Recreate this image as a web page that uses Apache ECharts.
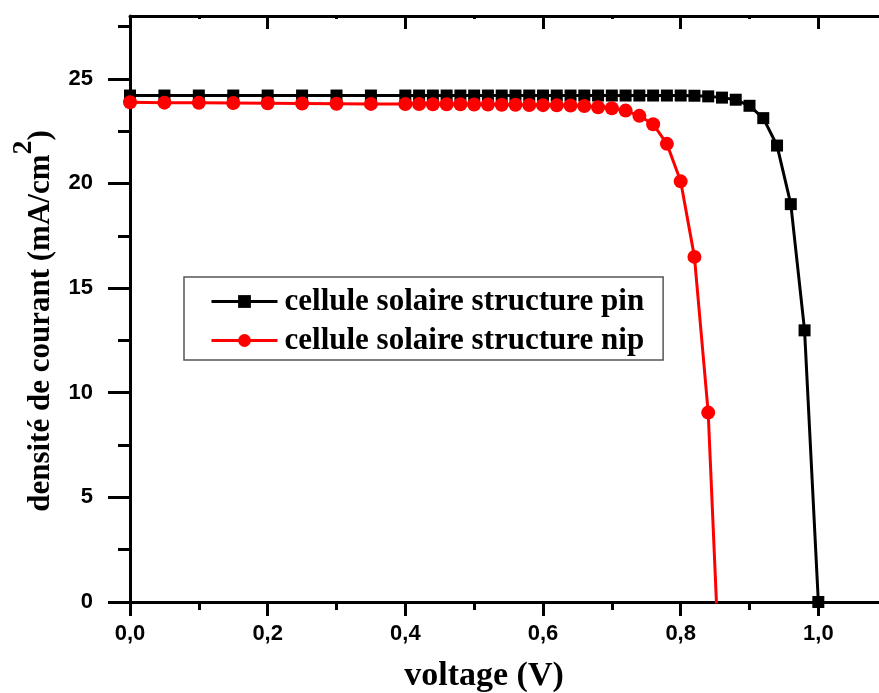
<!DOCTYPE html>
<html>
<head>
<meta charset="utf-8">
<script src="https://cdn.jsdelivr.net/npm/echarts@6/dist/echarts.min.js"></script>
<style>
  html, body { margin: 0; padding: 0; background: #fff; }
  #chart { width: 879px; height: 693px; }
</style>
</head>
<body>
<div id="chart"></div>
<script>
// Voltage (V) and current density (mA/cm2)
const voltagePin = [0, 0.05, 0.1, 0.15, 0.2, 0.25, 0.3, 0.35, 0.4,
    0.42, 0.44, 0.46, 0.48, 0.5, 0.52, 0.54, 0.56, 0.58, 0.6,
    0.62, 0.64, 0.66, 0.68, 0.7, 0.72, 0.74, 0.76, 0.78, 0.8,
    0.82, 0.84, 0.86, 0.88, 0.9, 0.92, 0.94, 0.96, 0.98, 1.0];
const currentPin = [24.2, 24.2, 24.2, 24.2, 24.2, 24.2, 24.2, 24.2, 24.2,
    24.2, 24.2, 24.2, 24.2, 24.2, 24.2, 24.2, 24.2, 24.2, 24.2,
    24.2, 24.2, 24.2, 24.2, 24.2, 24.2, 24.2, 24.2, 24.2, 24.2,
    24.19, 24.16, 24.1, 24.0, 23.71, 23.12, 21.81, 19.01, 12.98, 0];

const voltageNip = [0, 0.05, 0.1, 0.15, 0.2, 0.25, 0.3, 0.35, 0.4,
    0.42, 0.44, 0.46, 0.48, 0.5, 0.52, 0.54, 0.56, 0.58, 0.6,
    0.62, 0.64, 0.66, 0.68, 0.7, 0.72, 0.74, 0.76, 0.78, 0.8,
    0.82, 0.84, 0.86];
const currentNip = [23.88, 23.86, 23.85, 23.84, 23.83, 23.82, 23.81, 23.8, 23.79,
    23.79, 23.78, 23.78, 23.78, 23.77, 23.77, 23.76, 23.76, 23.75, 23.74,
    23.73, 23.72, 23.7, 23.64, 23.59, 23.48, 23.23, 22.83, 21.89, 20.1,
    16.49, 9.05, -6.1];

const yMajorTicks = [0, 5, 10, 15, 20, 25];
const yMinorTicks = [2.5, 7.5, 12.5, 17.5, 22.5, 27.5];

const seriesNames = ['cellule solaire structure pin', 'cellule solaire structure nip'];

const serif = '"Liberation Serif", "Times New Roman", serif';
const sans = '"Liberation Sans", Arial, sans-serif';

const chart = echarts.init(document.getElementById('chart'), null, { renderer: 'canvas' });

const axisLine = { show: true, onZero: false, lineStyle: { color: '#000', width: 3 } };

chart.setOption({
    animation: false,
    backgroundColor: '#fff',
    grid: { left: 130, top: 16, width: 826, height: 586, containLabel: false, outerBoundsMode: 'none' },
    legend: {
        orient: 'vertical',
        left: 184,
        top: 277,
        data: seriesNames.map(n => ({ name: n, lineStyle: { width: 3 } })),
        itemWidth: 66,
        itemHeight: 16,
        itemGap: 8,
        padding: [9, 19, 4, 26],
        borderColor: '#555',
        borderWidth: 1.5,
        lineStyle: { width: 3 },
        textStyle: {
            fontFamily: serif,
            fontWeight: 'bold',
            fontSize: 31,
            lineHeight: 30,
            color: '#000',
            padding: [0, 0, 0, 2]
        }
    },
    xAxis: [
        {
            type: 'value',
            position: 'bottom',
            min: 0,
            max: 1.2,
            interval: 0.2,
            axisLine: axisLine,
            axisTick: { show: true, inside: false, length: 14, lineStyle: { color: '#000', width: 3 } },
            minorTick: { show: true, splitNumber: 2, length: 8, lineStyle: { color: '#000', width: 3 } },
            splitLine: { show: false },
            axisLabel: {
                margin: 21,
                color: '#000',
                fontFamily: sans,
                fontWeight: 'bold',
                fontSize: 22,
                showMaxLabel: false,
                formatter: v => v.toFixed(1).replace('.', ',')
            },
            name: 'voltage (V)',
            nameLocation: 'middle',
            nameGap: 57,
            nameTextStyle: {
                fontFamily: serif,
                fontWeight: 'bold',
                fontSize: 34,
                color: '#000',
                padding: [0, 118, 0, 0]
            }
        },
        {
            type: 'value',
            position: 'top',
            min: 0,
            max: 1.2,
            interval: 0.2,
            axisLine: axisLine,
            axisTick: { show: true, inside: true, length: 13, lineStyle: { color: '#000', width: 3 } },
            minorTick: { show: true, splitNumber: 2, length: 3, lineStyle: { color: '#000', width: 3 } },
            splitLine: { show: false },
            axisLabel: { show: false }
        }
    ],
    yAxis: [
        {
            type: 'value',
            position: 'left',
            min: 0,
            max: 28,
            interval: 5,
            axisLine: axisLine,
            axisTick: { show: true, inside: false, length: 22, customValues: yMajorTicks, lineStyle: { color: '#000', width: 3 } },
            splitLine: { show: false },
            axisLabel: {
                margin: 37,
                customValues: yMajorTicks,
                color: '#000',
                fontFamily: sans,
                fontWeight: 'bold',
                fontSize: 22
            },
            name: '{a|densité de courant (mA/cm}{s|2}{a|)}',
            nameLocation: 'middle',
            nameRotate: 90,
            nameGap: 58,
            nameTextStyle: {
                padding: [0, 24, 0, 0],
                rich: {
                    a: { fontFamily: serif, fontWeight: 'bold', fontSize: 31, color: '#000' },
                    s: { fontFamily: serif, fontWeight: 'bold', fontSize: 28, color: '#000', padding: [0, 0, 34, 0] }
                }
            }
        },
        {
            type: 'value',
            position: 'left',
            min: 0,
            max: 28,
            axisLine: { show: false },
            axisTick: { show: true, inside: false, length: 12, customValues: yMinorTicks, lineStyle: { color: '#000', width: 3 } },
            axisLabel: { show: false },
            splitLine: { show: false }
        }
    ],
    series: [
        {
            name: seriesNames[0],
            type: 'line',
            xAxisIndex: 0,
            yAxisIndex: 0,
            data: voltagePin.map((v, i) => [v, currentPin[i]]),
            symbol: 'rect',
            symbolSize: 12,
            showAllSymbol: true,
            clip: true,
            lineStyle: { color: '#000', width: 3 },
            itemStyle: { color: '#000' }
        },
        {
            name: seriesNames[1],
            type: 'line',
            xAxisIndex: 0,
            yAxisIndex: 0,
            data: voltageNip.map((v, i) => [v, currentNip[i]]),
            symbol: 'circle',
            symbolSize: 14,
            showAllSymbol: true,
            clip: true,
            lineStyle: { color: '#ff0000', width: 3 },
            itemStyle: { color: '#ff0000' }
        }
    ]
});
</script>
</body>
</html>
